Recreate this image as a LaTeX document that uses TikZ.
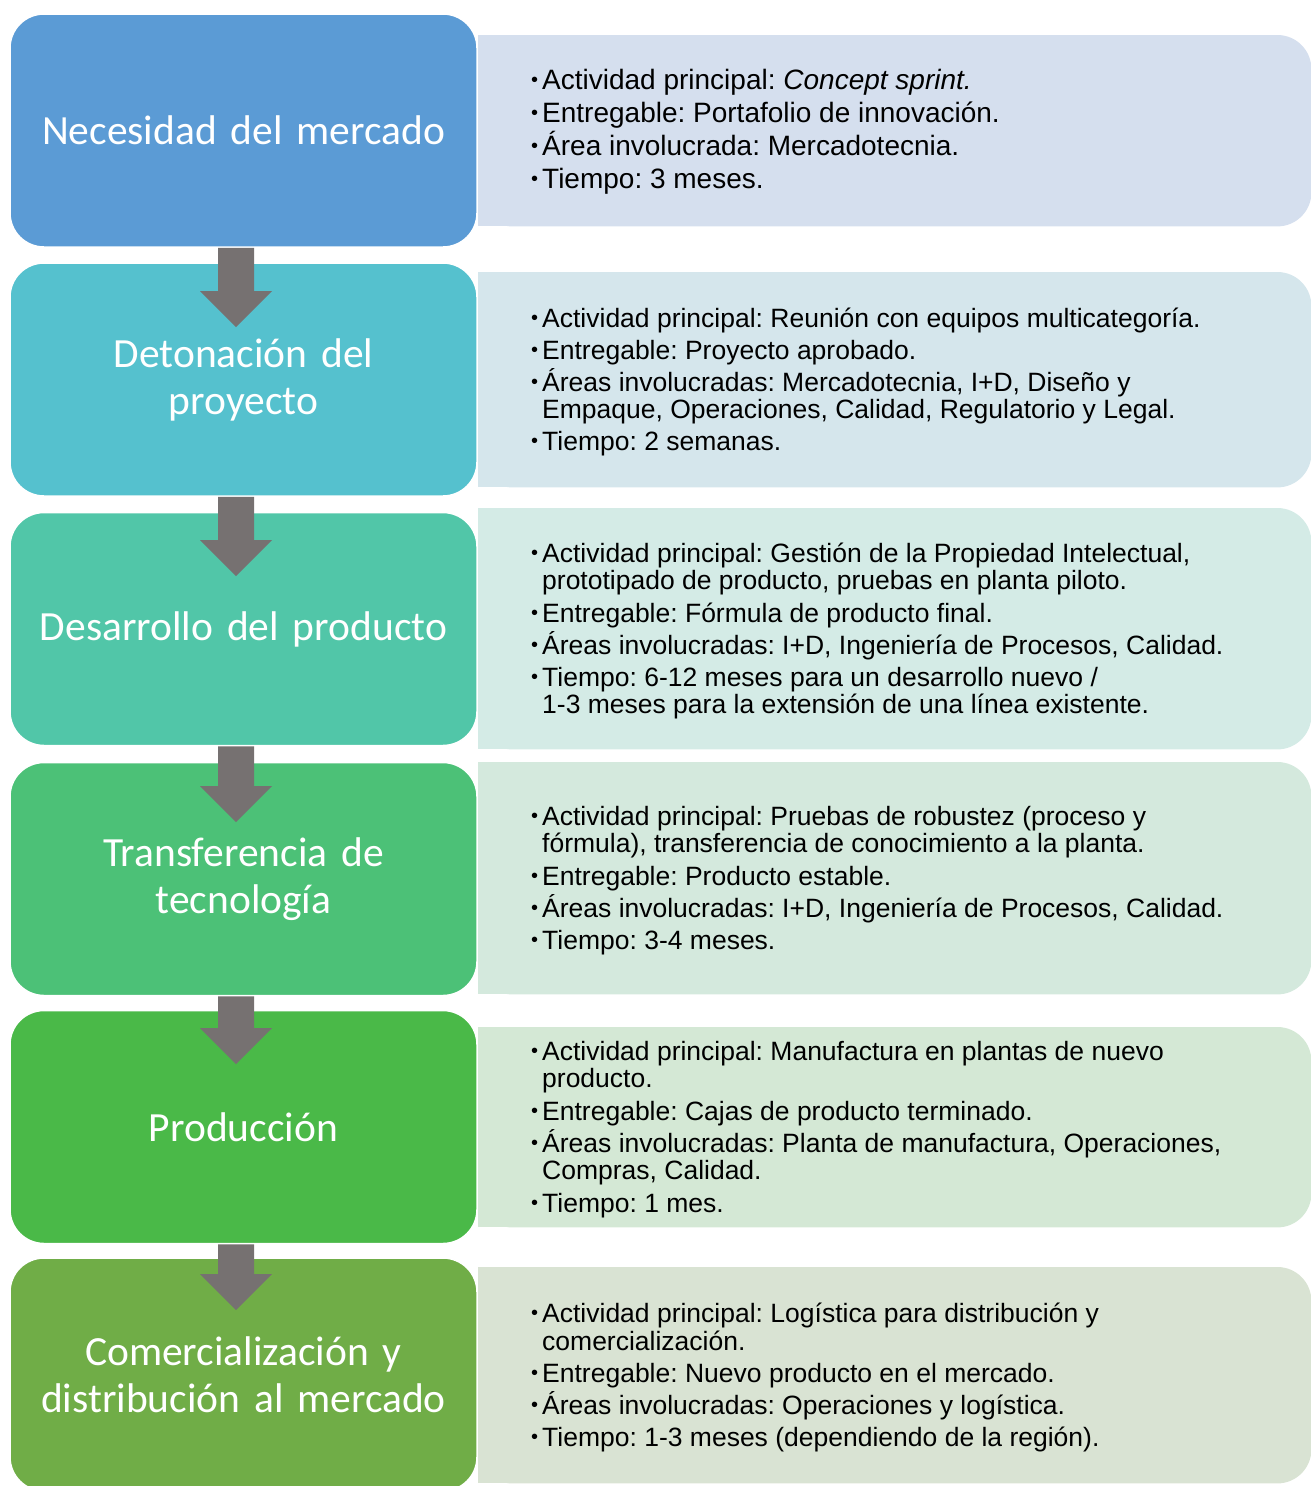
\documentclass[tikz,border=0pt]{standalone}
\usepackage{fontspec}
\setmainfont{Liberation Sans}
\newfontfamily\boxfont{Carlito}
\usetikzlibrary{calc}

\definecolor{stepA}{HTML}{5B9BD5}
\definecolor{stepB}{HTML}{55C1CE}
\definecolor{stepC}{HTML}{51C6A8}
\definecolor{stepD}{HTML}{4CC177}
\definecolor{stepE}{HTML}{4AB948}
\definecolor{stepF}{HTML}{70AD47}
\definecolor{noteA}{HTML}{D5DFEE}
\definecolor{noteB}{HTML}{D5E6EC}
\definecolor{noteC}{HTML}{D4EBE6}
\definecolor{noteD}{HTML}{D4E9DD}
\definecolor{noteE}{HTML}{D4E8D5}
\definecolor{noteF}{HTML}{D9E3D3}
\definecolor{arrowgray}{HTML}{767171}

% small bullet in a fixed-width slot, and the matching indent of a wrapped line
\newcommand\bul{\makebox[11pt][l]{\raisebox{3pt}{\fontsize{20}{20}\selectfont\textbullet}}}
\newcommand\cont{\hspace*{11pt}}
% fixed line pitch regardless of accents
\newcommand\fixedlines{\lineskip=0pt\lineskiplimit=-100pt\frenchspacing}

% block arrow from the bottom of a step box down to a tip coordinate
\newcommand\flowarrow[2]{%
  \fill[arrowgray] ($(#1.south -| #2)+(-18,0)$) -- ($(#1.south -| #2)+(18,0)$)
    -- ($(#2)+(18,-36)$) -- ($(#2)+(36,-36)$) -- (#2)
    -- ($(#2)+(-36,-36)$) -- ($(#2)+(-18,-36)$) -- cycle;}

% panel background: rounded on the right, square on the left
\newcommand\notefill[2]{%
  \fill[#2, rounded corners=34pt] (#1.north west) rectangle (#1.south east);
  \fill[#2] (#1.north west) rectangle (#1.south);}

\tikzset{
  stepbox/.style={rectangle, rounded corners=34pt, draw=white, line width=1.5pt,
    minimum width=467pt, minimum height=233pt, inner sep=0pt, text=white,
    font=\boxfont\fontsize{41.5}{47}\selectfont, align=center, text width=460pt},
  notebox/.style={rectangle, anchor=north west, minimum width=833pt, inner sep=0pt},
  notetext/.style={anchor=west, inner sep=0pt, align=left,
    font=\fontsize{26.5}{27.5}\selectfont\fixedlines},
  firstnote/.style={font=\fontsize{28}{28}\selectfont\fixedlines},
}

\begin{document}
\begin{tikzpicture}[x=1pt, y=-1pt]
\useasboundingbox (0,0) rectangle (1311,1486);

% panels
\node[notebox, minimum height=191pt] (p1) at (478,35) {};
\node[notebox, minimum height=215pt] (p2) at (478,272) {};
\node[notebox, minimum height=241pt] (p3) at (478,508) {};
\node[notebox, minimum height=232pt] (p4) at (478,762) {};
\node[notebox, minimum height=200pt] (p5) at (478,1027) {};
\node[notebox, minimum height=216pt] (p6) at (478,1267) {};
\notefill{p1}{noteA}
\notefill{p2}{noteB}
\notefill{p3}{noteC}
\notefill{p4}{noteD}
\notefill{p5}{noteE}
\notefill{p6}{noteF}

% step boxes
\node[stepbox, fill=stepA] (b1) at (243.5,130.5) {Necesidad del mercado};
\node[stepbox, fill=stepB] (b2) at (243.5,379.5) {Detonación del\\proyecto};
\node[stepbox, fill=stepC] (b3) at (243.5,629) {Desarrollo del producto};
\node[stepbox, fill=stepD] (b4) at (243.5,879) {Transferencia de\\tecnología};
\node[stepbox, fill=stepE] (b5) at (243.5,1127) {Producción};
\node[stepbox, fill=stepF] (b6) at (243.5,1374.5) {Comercialización y\\distribución al mercado};

% arrows between steps
\coordinate (t1) at (236,327);
\coordinate (t2) at (236,576);
\coordinate (t3) at (236,822);
\coordinate (t4) at (236,1064);
\coordinate (t5) at (236,1310);
\flowarrow{b1}{t1}
\flowarrow{b2}{t2}
\flowarrow{b3}{t3}
\flowarrow{b4}{t4}
\flowarrow{b5}{t5}

% panel texts
\node[notetext, firstnote] (n1) at (531,132) {%
\bul Actividad principal: \textit{Concept sprint.}\\[5pt]
\bul Entregable: Portafolio de innovación.\\[5pt]
\bul Área involucrada: Mercadotecnia.\\[5pt]
\bul Tiempo: 3 meses.};

\node[notetext] (n2) at (531,382) {%
\bul Actividad principal: Reunión con equipos multicategoría.\\[4.5pt]
\bul Entregable: Proyecto aprobado.\\[4.5pt]
\bul Áreas involucradas: Mercadotecnia, I+D, Diseño y\\
\cont Empaque, Operaciones, Calidad, Regulatorio y Legal.\\[4.5pt]
\bul Tiempo: 2 semanas.};

\node[notetext] (n3) at (531,631) {%
\bul Actividad principal: Gestión de la Propiedad Intelectual,\\
\cont prototipado de producto, pruebas en planta piloto.\\[5pt]
\bul Entregable: Fórmula de producto final.\\[4.5pt]
\bul Áreas involucradas: I+D, Ingeniería de Procesos, Calidad.\\[4.5pt]
\bul Tiempo: 6-12 meses para un desarrollo nuevo /\\
\cont 1-3 meses para la extensión de una línea existente.};

\node[notetext] (n4) at (531,880.5) {%
\bul Actividad principal: Pruebas de robustez (proceso y\\
\cont fórmula), transferencia de conocimiento a la planta.\\[5pt]
\bul Entregable: Producto estable.\\[4.5pt]
\bul Áreas involucradas: I+D, Ingeniería de Procesos, Calidad.\\[4.5pt]
\bul Tiempo: 3-4 meses.};

\node[notetext] (n5) at (531,1129.5) {%
\bul Actividad principal: Manufactura en plantas de nuevo\\
\cont producto.\\[5pt]
\bul Entregable: Cajas de producto terminado.\\[4.5pt]
\bul Áreas involucradas: Planta de manufactura, Operaciones,\\
\cont Compras, Calidad.\\[5pt]
\bul Tiempo: 1 mes.};

\node[notetext] (n6) at (531,1377.5) {%
\bul Actividad principal: Logística para distribución y\\
\cont comercialización.\\[5pt]
\bul Entregable: Nuevo producto en el mercado.\\[4.5pt]
\bul Áreas involucradas: Operaciones y logística.\\[4.5pt]
\bul Tiempo: 1-3 meses (dependiendo de la región).};
\end{tikzpicture}
\end{document}
